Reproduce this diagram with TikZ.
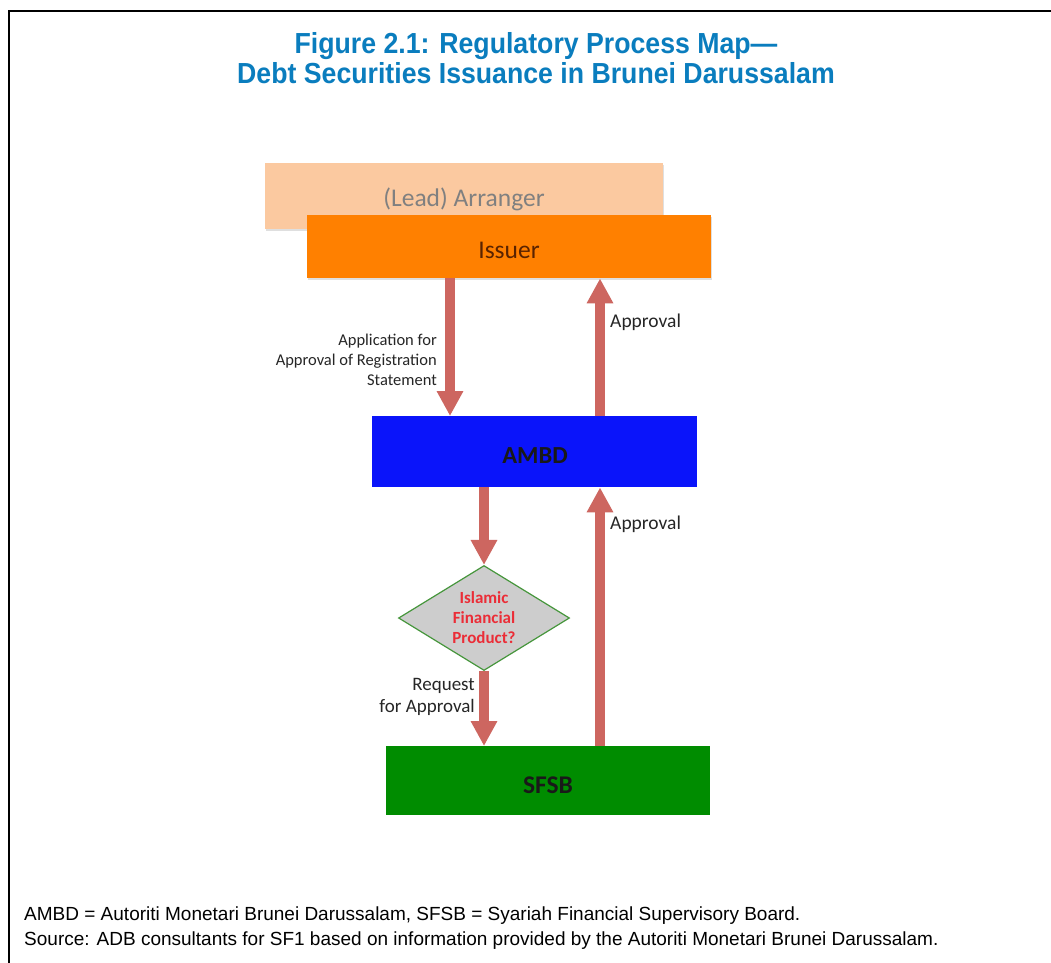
\documentclass[tikz,border=0pt]{standalone}
\usepackage{fontspec}
\setmainfont{Carlito}
\newfontfamily\arialfont{Liberation Sans}
\newfontfamily\titlefont[FakeStretch=0.92]{Liberation Sans}
\usetikzlibrary{arrows.meta,shapes.geometric,shadows}
\definecolor{titleblue}{RGB}{10,125,190}
\definecolor{arrowred}{RGB}{205,102,96}
\definecolor{peach}{RGB}{251,201,160}
\definecolor{issuerorange}{RGB}{255,128,0}
\definecolor{ambdblue}{RGB}{10,20,250}
\definecolor{sfsbgreen}{RGB}{0,140,0}
\definecolor{diagray}{RGB}{205,205,205}
\definecolor{diagreen}{RGB}{70,150,60}
\definecolor{qred}{RGB}{235,45,55}
\tikzset{
  boxnode/.style={draw=none, inner sep=0pt, anchor=north west},
  boxtext/.style={font=\fontsize{25.5}{28}\selectfont, inner sep=0pt},
  flow/.style={draw=arrowred, line width=10pt, -{Triangle[width=25pt,length=25pt]}},
  lbl/.style={font=\fontsize{16.5}{20}\selectfont, text=black!85, align=right, inner sep=0pt},
  appr/.style={font=\fontsize{19.5}{22}\selectfont, text=black!85, inner sep=0pt, anchor=west},
  shadowed/.style={drop shadow={opacity=0.25, shadow xshift=1pt, shadow yshift=-2pt}},
}
\begin{document}
\begin{tikzpicture}[x=1pt,y=-1pt]
\useasboundingbox (0,0) rectangle (1051,962);
\fill[white] (0,0) rectangle (1051,962);
\draw[line width=2pt] (9,975) -- (9,11) -- (1060,11);
% title
\node[font=\titlefont\bfseries\fontsize{29}{30}\selectfont, text=titleblue, align=center] (title) at (536,58)
  {Figure 2.1: Regulatory Process Map—\\Debt Securities Issuance in Brunei Darussalam};
% boxes
\node[boxnode, fill=peach, shadowed, minimum width=398pt, minimum height=66pt] (arranger) at (265,163) {};
\node[boxtext, text=black!50] (arrtxt) at (464,199) {(Lead) Arranger};
\node[boxnode, fill=issuerorange, shadowed, minimum width=404pt, minimum height=63pt] (issuer) at (307,215) {};
\node[boxtext, text={rgb,255:red,90;green,35;blue,0}] (isstxt) at (509,250) {Issuer};
\node[boxnode, fill=ambdblue, minimum width=325pt, minimum height=71pt] (ambd) at (372,416) {};
\node[boxtext, font=\bfseries\fontsize{24.5}{28}\selectfont, text=black!90] (ambdtxt) at (535,456) {AMBD};
\node[draw=diagreen, line width=1.2pt, fill=diagray, diamond, minimum width=171pt, minimum height=105pt, inner sep=0pt, aspect=1.63,
  font=\bfseries\fontsize{17}{20}\selectfont, text=qred, align=center] (dia) at (484,618) {Islamic\\Financial\\Product?};
\node[boxnode, fill=sfsbgreen, minimum width=324pt, minimum height=69pt] (sfsb) at (386,746) {};
\node[boxtext, font=\bfseries\fontsize{25.5}{28}\selectfont, text=black!90] (sfsbtxt) at (548,785) {SFSB};
% arrows
\draw[flow] (issuer.south west -| 450,0) -- (ambd.north west -| 450,0);
\draw[flow] (ambd.north west -| 600,0) -- (issuer.south west -| 600,0);
\draw[flow] (ambd.south west -| 484,0) -- (dia.north);
\draw[flow] (dia.south) -- (sfsb.north west -| 484,0);
\draw[flow] (sfsb.north west -| 600,0) -- (ambd.south west -| 600,0);
% labels
\node[lbl, anchor=east] (l1) at (437,360) {Application for\\Approval of Registration\\Statement};
\node[appr] (a1) at (610,322) {Approval};
\node[appr] (a2) at (610,524) {Approval};
\node[lbl, font=\fontsize{19}{22}\selectfont, anchor=east] (l2) at (475,697) {Request\\for Approval};
% footnotes
\node[font=\arialfont\fontsize{19}{25}\selectfont, anchor=west, align=left, inner sep=0pt] (foot) at (24,928)
  {AMBD = Autoriti Monetari Brunei Darussalam, SFSB = Syariah Financial Supervisory Board.\\Source: ADB consultants for SF1 based on information provided by the Autoriti Monetari Brunei Darussalam.};
\end{tikzpicture}
\end{document}
